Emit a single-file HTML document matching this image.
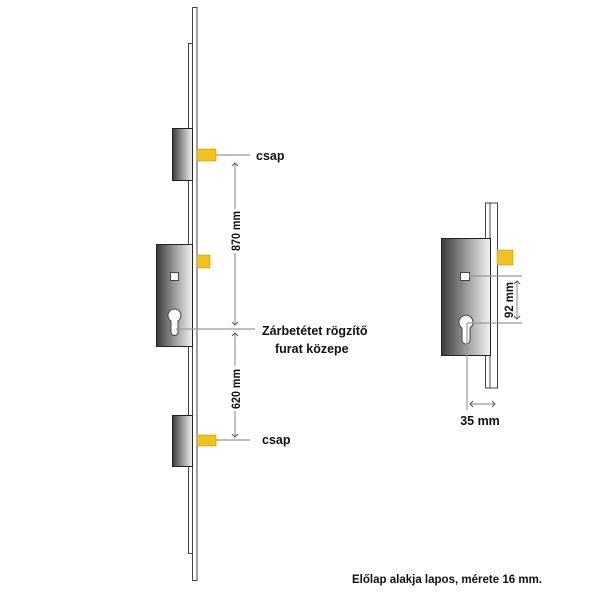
<!DOCTYPE html>
<html><head><meta charset="utf-8"><style>
body{margin:0;background:#fff}
svg text{font-family:"Liberation Sans",sans-serif;font-weight:bold;fill:#111}
</style></head><body>
<svg width="600" height="600" viewBox="0 0 600 600" xmlns="http://www.w3.org/2000/svg">
<defs>
<linearGradient id="g" x1="0" x2="1" y1="0" y2="0">
<stop offset="0" stop-color="#3a3a3a"/><stop offset="0.5" stop-color="#9a9a9a"/><stop offset="1" stop-color="#f2f2f2"/>
</linearGradient>
</defs>
<rect x="192.5" y="7.5" width="4.5" height="573" fill="#fff" stroke="#444" stroke-width="1"/>
<rect x="188.5" y="43.5" width="4" height="510" fill="#fff" stroke="#444" stroke-width="1"/>
<rect x="172.5" y="128.5" width="20" height="52" fill="url(#g)" stroke="#222"/>
<rect x="197" y="149" width="19" height="12" fill="#f2c21a" stroke="#b08a00" stroke-width="0.5"/>
<rect x="156.5" y="244.5" width="36" height="102" fill="url(#g)" stroke="#222"/>
<rect x="197" y="255" width="13" height="13" fill="#f2c21a" stroke="#b08a00" stroke-width="0.5"/>
<rect x="170.5" y="272.5" width="8" height="8" fill="#fff" stroke="#444"/>
<path d="M171,321 A6.5,6.5 0 1 1 178,321 L178,332 A3.5,3.5 0 0 1 171,332 Z" fill="#fff" stroke="#444"/>
<rect x="172.5" y="415.5" width="20" height="51" fill="url(#g)" stroke="#222"/>
<rect x="197" y="435" width="19" height="11" fill="#f2c21a" stroke="#b08a00" stroke-width="0.5"/>
<g stroke="#999" stroke-width="1.2" fill="none">
<line x1="216" y1="155" x2="250" y2="155"/>
<line x1="216" y1="440" x2="250" y2="440"/>
<line x1="176" y1="329" x2="255" y2="329"/>
<line x1="235" y1="164" x2="235" y2="209"/>
<line x1="235" y1="253" x2="235" y2="324"/>
<line x1="235" y1="334" x2="235" y2="366"/>
<line x1="235" y1="411" x2="235" y2="437"/>
</g>
<g stroke="#555" stroke-width="1" fill="none">
<path d="M232,166 L235,163 L238,166"/><path d="M232,322 L235,325 L238,322"/>
<path d="M232,336 L235,333 L238,336"/><path d="M232,434 L235,437 L238,434"/>
</g>
<text x="256" y="160" font-size="12.5">csap</text>
<text x="262" y="444" font-size="12.5">csap</text>
<text x="262" y="335" font-size="12.5">Zárbetétet rögzítő</text>
<text x="275" y="353" font-size="12.5">furat közepe</text>
<text transform="translate(240,231) rotate(-90)" text-anchor="middle" font-size="12" textLength="40" lengthAdjust="spacingAndGlyphs">870 mm</text>
<text transform="translate(240,389) rotate(-90)" text-anchor="middle" font-size="12" textLength="40" lengthAdjust="spacingAndGlyphs">620 mm</text>
<rect x="485.5" y="203" width="4.5" height="185" fill="#fff" stroke="#444"/>
<rect x="490" y="203" width="7.5" height="185" fill="#fff" stroke="#444"/>
<rect x="441.5" y="238.5" width="49" height="117" fill="url(#g)" stroke="#222"/>
<rect x="497" y="250" width="16" height="15" fill="#f2c21a" stroke="#b08a00" stroke-width="0.5"/>
<rect x="460.5" y="272.5" width="9" height="8" fill="#fff" stroke="#444"/>
<path d="M462,328 A7,7 0 1 1 470,328 L470,340 A4,4 0 0 1 462,340 Z" fill="#fff" stroke="#444"/>
<g stroke="#999" stroke-width="1.2" fill="none">
<line x1="469" y1="276" x2="522" y2="276"/>
<line x1="467" y1="323" x2="522" y2="323"/>
<line x1="467" y1="323" x2="467" y2="410"/>
<line x1="517" y1="282" x2="517" y2="318"/>
<line x1="471" y1="404" x2="494" y2="404"/>
</g>
<g stroke="#555" stroke-width="1" fill="none">
<path d="M514,284 L517,281 L520,284"/><path d="M514,316 L517,319 L520,316"/>
<path d="M473,401 L470,404 L473,407"/><path d="M492,401 L495,404 L492,407"/>
</g>
<text transform="translate(513,300) rotate(-90)" text-anchor="middle" font-size="12" textLength="36" lengthAdjust="spacingAndGlyphs">92 mm</text>
<text x="480" y="425" text-anchor="middle" font-size="12.5">35 mm</text>
<text x="352" y="583" font-size="12" textLength="190" lengthAdjust="spacingAndGlyphs">Előlap alakja lapos, mérete 16 mm.</text>
</svg>
</body></html>
